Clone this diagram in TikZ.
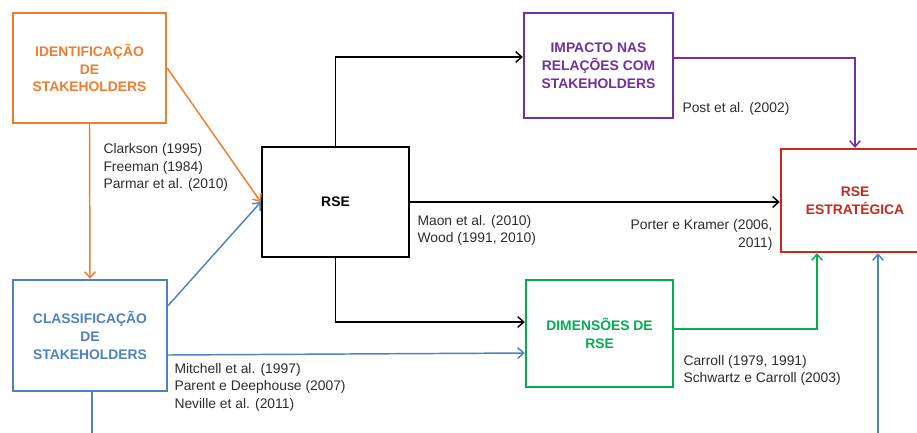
\documentclass[tikz,border=0pt]{standalone}
\usepackage{fontspec}
\setmainfont{Liberation Sans}
\usetikzlibrary{arrows.meta}

\definecolor{laranja}{RGB}{237,125,49}
\definecolor{azul}{RGB}{79,129,189}
\definecolor{roxo}{RGB}{112,48,160}
\definecolor{verde}{RGB}{0,176,80}
\definecolor{vermelho}{RGB}{200,40,30}
\definecolor{cinza}{RGB}{45,45,45}

\tikzset{every picture/.style={line width=0.75pt}}
\tikzset{
  caixa/.style={draw, line width=1.8pt, align=center, inner sep=0pt,
    font=\bfseries\fontsize{10.4}{13.4}\selectfont},
  seta/.style={-{Straight Barb[length=4.5pt,width=8pt]}, line width=1.1pt},
  linha/.style={line width=1.1pt},
  ref/.style={text=cinza, inner sep=0pt, font=\fontsize{10.4}{13.1}\selectfont}
}

\begin{document}
\begin{tikzpicture}[x=0.75pt,y=0.75pt,yscale=-1,xscale=1]

\useasboundingbox (0,0) rectangle (917,432);

% caixas
\node [caixa, draw=laranja, text=laranja, minimum width=114.75pt, minimum height=82.5pt] (ident) at (89.5,68) {IDENTIFICAÇÃO\\DE\\STAKEHOLDERS};
\node [caixa, draw=azul, text=azul, minimum width=115.5pt, minimum height=83.25pt] (classif) at (90,335.5) {CLASSIFICAÇÃO\\DE\\STAKEHOLDERS};
\node [caixa, draw=black, text=black, minimum width=110.25pt, minimum height=82.5pt] (rse) at (335.5,202) {RSE};
\node [caixa, draw=roxo, text=roxo, minimum width=111.75pt, minimum height=78.75pt] (impacto) at (598.5,65.5) {IMPACTO NAS\\RELAÇÕES COM\\STAKEHOLDERS};
\node [caixa, draw=verde, text=verde, minimum width=110.25pt, minimum height=80.25pt] (dimens) at (599.5,333.5) {DIMENSÕES DE\\RSE};
\node [caixa, draw=vermelho, text=vermelho, minimum width=111pt, minimum height=77.25pt] (estrat) at (855,200.5) {RSE\\ESTRATÉGICA};

\coordinate (cbot) at (92,440);
\coordinate (ebot) at (878,440);

% ligacoes
\draw [seta, laranja] (ident.east) -- (rse.west);
\draw [seta, laranja] (ident.south) -- (classif.north);
\draw [seta, azul] ([yshift=-22.5pt]classif.east) -- (rse.west);
\draw [seta, azul] ([yshift=14.625pt]classif.east) -- ([yshift=14.625pt]dimens.west);
\draw [linha, azul] (classif.south -| cbot) -- (cbot);
\draw [seta, azul] (ebot) -- (ebot |- estrat.south);
\draw [seta, black] (rse.north) |- ([yshift=-6.375pt]impacto.west);
\draw [seta, black] (rse.east) -- (rse.east -| estrat.west);
\draw [seta, black] (rse.south) |- ([yshift=-8.625pt]dimens.west);
\draw [seta, roxo] ([yshift=-5.625pt]impacto.east) -| (estrat.north);
\draw [seta, verde] ([yshift=-3.375pt]dimens.east) -| ([xshift=-28.5pt]estrat.south);

% referencias
\node [ref, anchor=west, align=left] (r1) at (103,167.5) {Clarkson (1995)\\Freeman (1984)\\Parmar et al. (2010)};
\node [ref, anchor=west, align=left] (r2) at (417,230.5) {Maon et al. (2010)\\Wood (1991, 2010)};
\node [ref, anchor=east, align=right] (r3) at (773,235) {Porter e Kramer (2006,\\2011)};
\node [ref, anchor=west, align=left] (r4) at (682,109) {Post et al. (2002)};
\node [ref, anchor=west, align=left] (r5) at (174,387) {Mitchell et al. (1997)\\Parent e Deephouse (2007)\\Neville et al. (2011)};
\node [ref, anchor=west, align=left] (r6) at (683,370.5) {Carroll (1979, 1991)\\Schwartz e Carroll (2003)};

\end{tikzpicture}
\end{document}
